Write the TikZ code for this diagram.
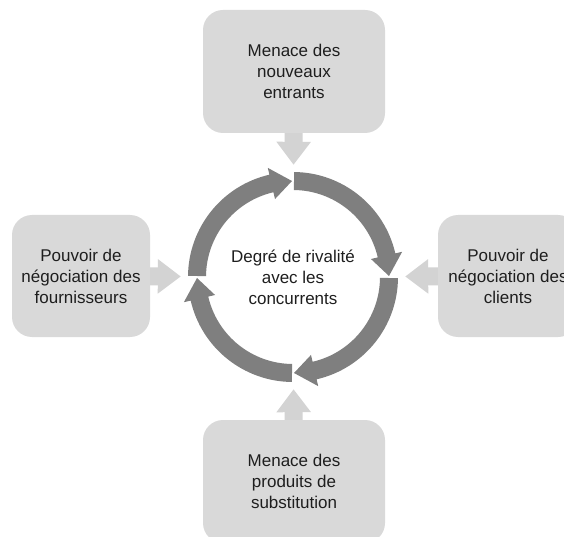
\documentclass[tikz,border=0pt]{standalone}
\usepackage{fontspec}
\setmainfont{Liberation Sans}
\usetikzlibrary{arrows.meta}
\definecolor{boxgray}{HTML}{D9D9D9}
\definecolor{arrowgray}{HTML}{D3D3D3}
\definecolor{ringgray}{HTML}{7F7F7F}
\definecolor{txt}{HTML}{1E1E1E}
\begin{document}
\begin{tikzpicture}[x=1pt,y=1pt,
  force/.style={fill=boxgray, rounded corners=20pt, text=txt, align=center,
    font=\fontsize{17}{21}\selectfont, inner sep=0pt},
  push/.style={draw=arrowgray, line width=18pt,
    -{Triangle[width=33pt,length=23pt]}},
  ringseg/.style={fill=ringgray},
  hub/.style={circle, minimum size=224pt, inner sep=0pt, align=center,
    text=txt, font=\fontsize{17}{21}\selectfont}]
\useasboundingbox (0,0) rectangle (564,536);
\clip (0,0) rectangle (564,536);
\node[force, minimum width=182pt, minimum height=123pt] (top) at (294,464.5) {Menace des\\nouveaux\\entrants};
\node[force, minimum width=138pt, minimum height=122pt] (left) at (81,260) {Pouvoir de\\négociation des\\fournisseurs};
\node[force, minimum width=140pt, minimum height=122pt] (right) at (508,260) {Pouvoir de\\négociation des\\clients};
\node[force, minimum width=182pt, minimum height=123pt] (bottom) at (294,54.5) {Menace des\\produits de\\substitution};
\node[hub] (ring) at (293,259) {Degré de rivalité\\avec les\\concurrents};
\begin{scope}[shift={(ring.center)}]
\foreach \s in {180,90,0,-90} {
  \pgfmathsetmacro\e{\s-90+0.6}
  \pgfmathsetmacro\h{\s-90+13}
  \pgfmathsetmacro\b{\s-0.6}
  \fill[ringseg] (\b:105) arc[start angle=\b, end angle=\h, radius=105]
    -- (\h:112) -- (\e:96) -- (\h:80) -- (\h:87)
    arc[start angle=\h, end angle=\b, radius=87] -- cycle;
}
\end{scope}
\draw[push] (top) -- (ring);
\draw[push] (left) -- (ring);
\draw[push] (right) -- (ring);
\draw[push] (bottom) -- (ring);
\end{tikzpicture}
\end{document}
